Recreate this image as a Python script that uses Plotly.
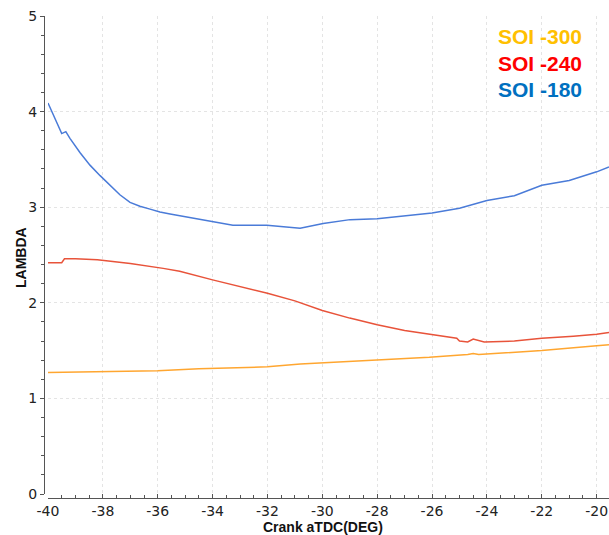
import plotly.graph_objects as go

# Crank angle (deg aTDC) and lambda readings for each injection timing
series_names = ["SOI -300", "SOI -240", "SOI -180"]

x_soi300 = [-40.0, -37.0, -36.0, -34.5, -32.0, -30.8, -28.0, -27.2, -26.1, -24.7, -24.5, -24.3, -22.0, -20.0, -19.55]
y_soi300 = [1.27, 1.28, 1.29, 1.31, 1.33, 1.36, 1.40, 1.41, 1.43, 1.46, 1.47, 1.46, 1.50, 1.55, 1.56]

x_soi240 = [-40.0, -39.5, -39.4, -39.0, -38.2, -37.0, -35.8, -35.2, -34.0, -33.0, -32.0, -31.0, -30.0, -29.0,
            -28.0, -27.0, -26.0, -25.1, -25.0, -24.7, -24.5, -24.1, -23.0, -22.0, -20.85, -20.0, -19.55]
y_soi240 = [2.42, 2.42, 2.46, 2.46, 2.45, 2.41, 2.36, 2.33, 2.24, 2.17, 2.10, 2.02, 1.92, 1.84,
            1.77, 1.71, 1.67, 1.63, 1.60, 1.59, 1.62, 1.59, 1.60, 1.63, 1.65, 1.67, 1.69]

x_soi180 = [-40.0, -39.5, -39.35, -39.2, -38.83, -38.47, -38.1, -37.74, -37.38, -37.01, -36.65, -36.28, -35.92,
            -35.55, -35.19, -34.46, -33.26, -32.02, -30.81, -29.97, -28.99, -28.0, -26.0, -25.0, -24.0, -23.0,
            -22.0, -21.0, -20.0, -19.55]
y_soi180 = [4.09, 3.77, 3.79, 3.72, 3.57, 3.44, 3.33, 3.23, 3.13, 3.05, 3.01, 2.98, 2.95,
            2.93, 2.91, 2.87, 2.81, 2.81, 2.78, 2.83, 2.87, 2.88, 2.94, 2.99, 3.07, 3.12,
            3.23, 3.28, 3.37, 3.42]

x_ticks = [-40, -38, -36, -34, -32, -30, -28, -26, -24, -22, -20]
x_ticklabels = ["-40", "-38", "-36", "-34", "-32", "-30", "-28", "-26", "-24", "-22", "-20"]
y_ticks = [0, 1, 2, 3, 4, 5]
y_ticklabels = ["0", "1", "2", "3", "4", "5"]

line_colors = ["#FFA630", "#E8533A", "#4A7BD8"]
label_colors = ["#FFC000", "#FF0000", "#0070C0"]

W, H = 609, 535
ml, mr, mt, mb = 44, 0, 16, 37
pw, ph = W - ml - mr, H - mt - mb


def px_x(p):
    return (p - ml) / pw


def px_y(p):
    return (H - mb - p) / ph


fig = go.Figure()
for name, xs, ys, c in zip(series_names, [x_soi300, x_soi240, x_soi180],
                           [y_soi300, y_soi240, y_soi180], line_colors):
    fig.add_trace(go.Scatter(x=xs, y=ys, mode="lines", name=name,
                             line=dict(color=c, width=1.5), showlegend=False))

# coloured series labels in the upper right corner
for i, (name, c) in enumerate(zip(series_names, label_colors)):
    fig.add_annotation(text=f"<b>{name}</b>", xref="paper", yref="paper",
                       x=px_x(584), y=px_y(37 + 26.3 * i),
                       xanchor="right", yanchor="middle", showarrow=False,
                       font=dict(family="Liberation Sans, Arial", size=21, color=c))

titlefont = dict(family="Liberation Sans, Arial", size=14, color="#111")
fig.add_annotation(text="<b>Crank aTDC(DEG)</b>", xref="paper", yref="paper",
                   x=px_x(323), y=px_y(527), xanchor="center", yanchor="middle",
                   showarrow=False, font=titlefont)
fig.add_annotation(text="<b>LAMBDA</b>", xref="paper", yref="paper",
                   x=px_x(21), y=px_y(258), xanchor="center", yanchor="middle",
                   textangle=-90, showarrow=False, font=titlefont)

grid = dict(showgrid=True, gridcolor="#e4e4e4", gridwidth=1, griddash="dot")
tickfont = dict(family="DejaVu Sans", size=14, color="#222")

fig.update_layout(
    width=W, height=H,
    margin=dict(l=ml, r=mr, t=mt, b=mb),
    paper_bgcolor="white", plot_bgcolor="white",
    xaxis=dict(range=[-40, -19.55], domain=[4 / pw, 1], anchor="free", position=0,
               tickvals=x_ticks, ticktext=x_ticklabels, ticks="inside", ticklen=4, tickcolor="#555",
               showline=True, linecolor="#555", linewidth=1,
               minor=dict(dtick=0.5, ticks="inside", ticklen=3, tickcolor="#555", showgrid=False),
               tickfont=tickfont, zeroline=False, ticklabeloverflow="allow",
               **grid),
    yaxis=dict(range=[0, 5], domain=[4 / ph, 1], anchor="free", position=0,
               tickvals=y_ticks, ticktext=y_ticklabels, ticks="outside", ticklen=4, tickcolor="#555",
               showline=True, linecolor="#555", linewidth=1,
               minor=dict(dtick=0.2, ticks="outside", ticklen=3, tickcolor="#555", showgrid=False),
               tickfont=tickfont, zeroline=False,
               **grid),
)

fig.write_html("out.html")
